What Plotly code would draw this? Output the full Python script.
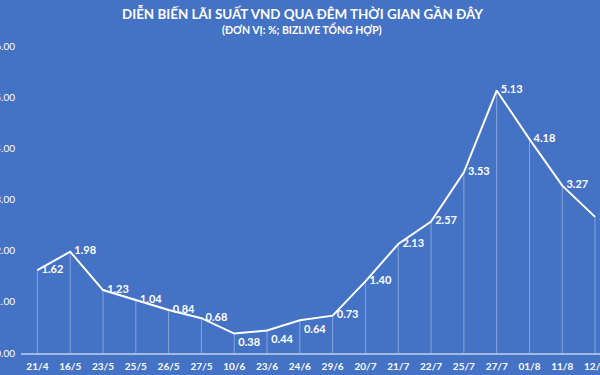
import plotly.graph_objects as go

dates = ["21/4", "16/5", "23/5", "25/5", "26/5", "27/5", "10/6", "23/6", "24/6",
         "29/6", "20/7", "21/7", "22/7", "25/7", "27/7", "01/8", "11/8", "12/8"]
rates = [1.62, 1.98, 1.23, 1.04, 0.84, 0.68, 0.38, 0.44, 0.64,
         0.73, 1.40, 2.13, 2.57, 3.53, 5.13, 4.18, 3.27, 2.66]
label_pos = ["middle right"] * 6 + ["bottom right"] * 3 + ["middle right"] * 9
y_ticks = [0, 1, 2, 3, 4, 5, 6]

BG = "#4472C4"
x_idx = list(range(len(dates)))

fig = go.Figure()
fig.add_trace(go.Scatter(
    x=x_idx, y=rates,
    mode="lines+markers+text",
    line=dict(color="white", width=2),
    marker=dict(size=5, color="rgba(0,0,0,0)"),
    text=[f"{v:.2f}" for v in rates],
    textposition=label_pos,
    textfont=dict(family="Lato", size=11, color="white", weight="bold"),
    error_y=dict(type="data", symmetric=False, array=[0] * len(rates),
                 arrayminus=rates, width=0, thickness=1,
                 color="rgba(255,255,255,0.35)"),
    cliponaxis=False,
    hoverinfo="skip",
))

fig.update_layout(
    width=600, height=375,
    paper_bgcolor=BG, plot_bgcolor=BG,
    margin=dict(l=21, r=0, t=46, b=22),
    showlegend=False,
    xaxis=dict(
        range=[-0.5, 17.15],
        tickmode="array", tickvals=x_idx, ticktext=dates,
        tickfont=dict(family="Lato", size=10, color="white", weight="bold"),
        showgrid=False, zeroline=False,
        showline=True, linecolor="rgba(255,255,255,0.5)", linewidth=2,
        ticks="", automargin=False, ticklabeloverflow="allow",
        ticklabelstandoff=3,
    ),
    yaxis=dict(
        range=[0, 6],
        tickmode="array", tickvals=y_ticks,
        ticktext=[f"{t:.2f}" for t in y_ticks],
        tickfont=dict(family="Lato", size=10, color="white"),
        showgrid=False, zeroline=False, showline=False,
        ticks="", automargin=False, ticklabelstandoff=5,
        ticklabeloverflow="allow",
    ),
    annotations=[
        dict(text="DIỄN BIẾN LÃI SUẤT VND QUA ĐÊM THỜI GIAN GẦN ĐÂY",
             xref="paper", yref="paper", x=(302 - 21) / 579, y=(353 - 13.5) / 307,
             xanchor="center", yanchor="middle", showarrow=False,
             font=dict(family="Lato", size=13.4, color="white", weight="bold")),
        dict(text="(ĐƠN VỊ: %; BIZLIVE TỔNG HỢP)",
             xref="paper", yref="paper", x=(302 - 21) / 579, y=(353 - 29.5) / 307,
             xanchor="center", yanchor="middle", showarrow=False,
             font=dict(family="Lato", size=10.5, color="white", weight="bold")),
    ],
)

fig.write_html("out.html", config={"displayModeBar": False},
               post_script="document.body.style.margin='0';")
